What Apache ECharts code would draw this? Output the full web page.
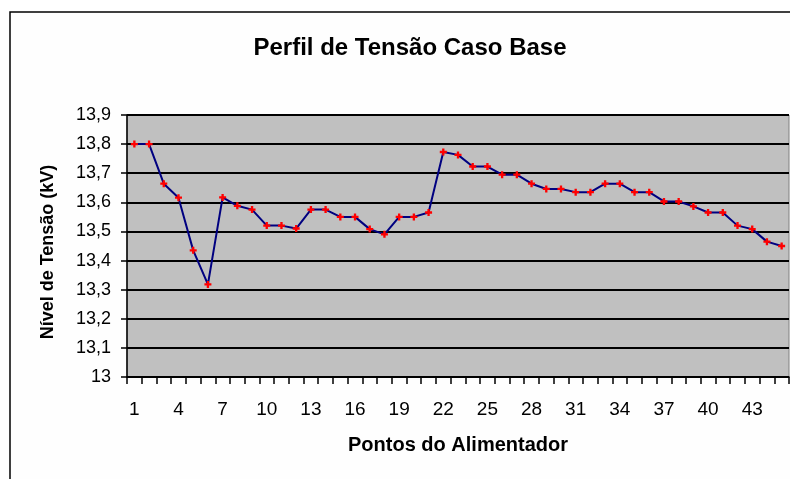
<!DOCTYPE html>
<html>
<head>
<meta charset="utf-8">
<script src="https://cdn.jsdelivr.net/npm/echarts@6/dist/echarts.min.js"></script>
<style>
  html, body { margin: 0; padding: 0; background: #fff; }
  #chart { width: 790px; height: 479px; }
</style>
</head>
<body>
<div id="chart"></div>
<script>
// pontos do alimentador 1..45
const pontos = [];
for (let i = 1; i <= 45; i++) pontos.push(String(i));

// nivel de tensao (kV)
const tensao = [
  13.80, 13.80, 13.664, 13.616, 13.435, 13.318, 13.617, 13.588, 13.575, 13.52,
  13.52, 13.51, 13.575, 13.575, 13.55, 13.55, 13.508, 13.49, 13.55, 13.55,
  13.565, 13.773, 13.763, 13.723, 13.723, 13.695, 13.695, 13.664, 13.646, 13.646,
  13.635, 13.635, 13.664, 13.664, 13.635, 13.635, 13.603, 13.603, 13.586, 13.565,
  13.565, 13.52, 13.508, 13.465, 13.45
];

const yMin = 13, yMax = 13.9, yStep = 0.1;

const font = '"Liberation Sans", Arial, sans-serif';
const chart = echarts.init(document.getElementById('chart'));

chart.setOption({
  animation: false,
  backgroundColor: '#fff',
  graphic: [{
    type: 'rect',
    z: -10,
    shape: { x: 10, y: 12, width: 800, height: 480 },
    style: { fill: '#fefefe', stroke: '#000', lineWidth: 1.5 }
  }],
  title: {
    text: 'Perfil de Tensão Caso Base',
    left: 405,
    top: 31,
    textAlign: 'center',
    textStyle: { fontFamily: font, fontSize: 24, fontWeight: 'bold', color: '#000' }
  },
  grid: {
    left: 127, right: 1, top: 115, bottom: 102,
    show: true,
    backgroundColor: '#c0c0c0',
    borderColor: '#808080',
    borderWidth: 1
  },
  xAxis: {
    type: 'category',
    data: pontos,
    boundaryGap: true,
    name: 'Pontos do Alimentador',
    nameLocation: 'middle',
    nameGap: 58,
    nameTextStyle: { fontFamily: font, fontSize: 20, fontWeight: 'bold', color: '#000' },
    axisLine: { lineStyle: { color: '#000', width: 1.5 } },
    axisTick: { show: true, interval: 0, length: 7, lineStyle: { color: '#000', width: 1.5 } },
    axisLabel: { interval: 2, margin: 23, fontFamily: font, fontSize: 19, color: '#000' },
    splitLine: { show: false }
  },
  yAxis: {
    type: 'value',
    min: yMin,
    max: yMax,
    interval: yStep,
    name: 'Nível de Tensão (kV)',
    nameLocation: 'middle',
    nameGap: 70,
    nameRotate: 90,
    nameTextStyle: { fontFamily: font, fontSize: 18, fontWeight: 'bold', color: '#000', padding: [0, 12, 0, 0] },
    axisLine: { show: true, lineStyle: { color: '#000', width: 1.5 } },
    axisTick: { show: true, length: 6, lineStyle: { color: '#000', width: 1.5 } },
    axisLabel: {
      margin: 16,
      fontFamily: font,
      fontSize: 18,
      color: '#000',
      formatter: v => String(parseFloat(v.toFixed(1))).replace('.', ',')
    },
    splitLine: { lineStyle: { color: '#000', width: 2 } }
  },
  series: [{
    type: 'line',
    data: tensao,
    symbol: 'path://M2,0H4V2H6V4H4V6H2V4H0V2H2Z',
    symbolSize: 7,
    itemStyle: { color: '#ff0000' },
    lineStyle: { color: '#000080', width: 2 }
  }]
});
</script>
</body>
</html>
